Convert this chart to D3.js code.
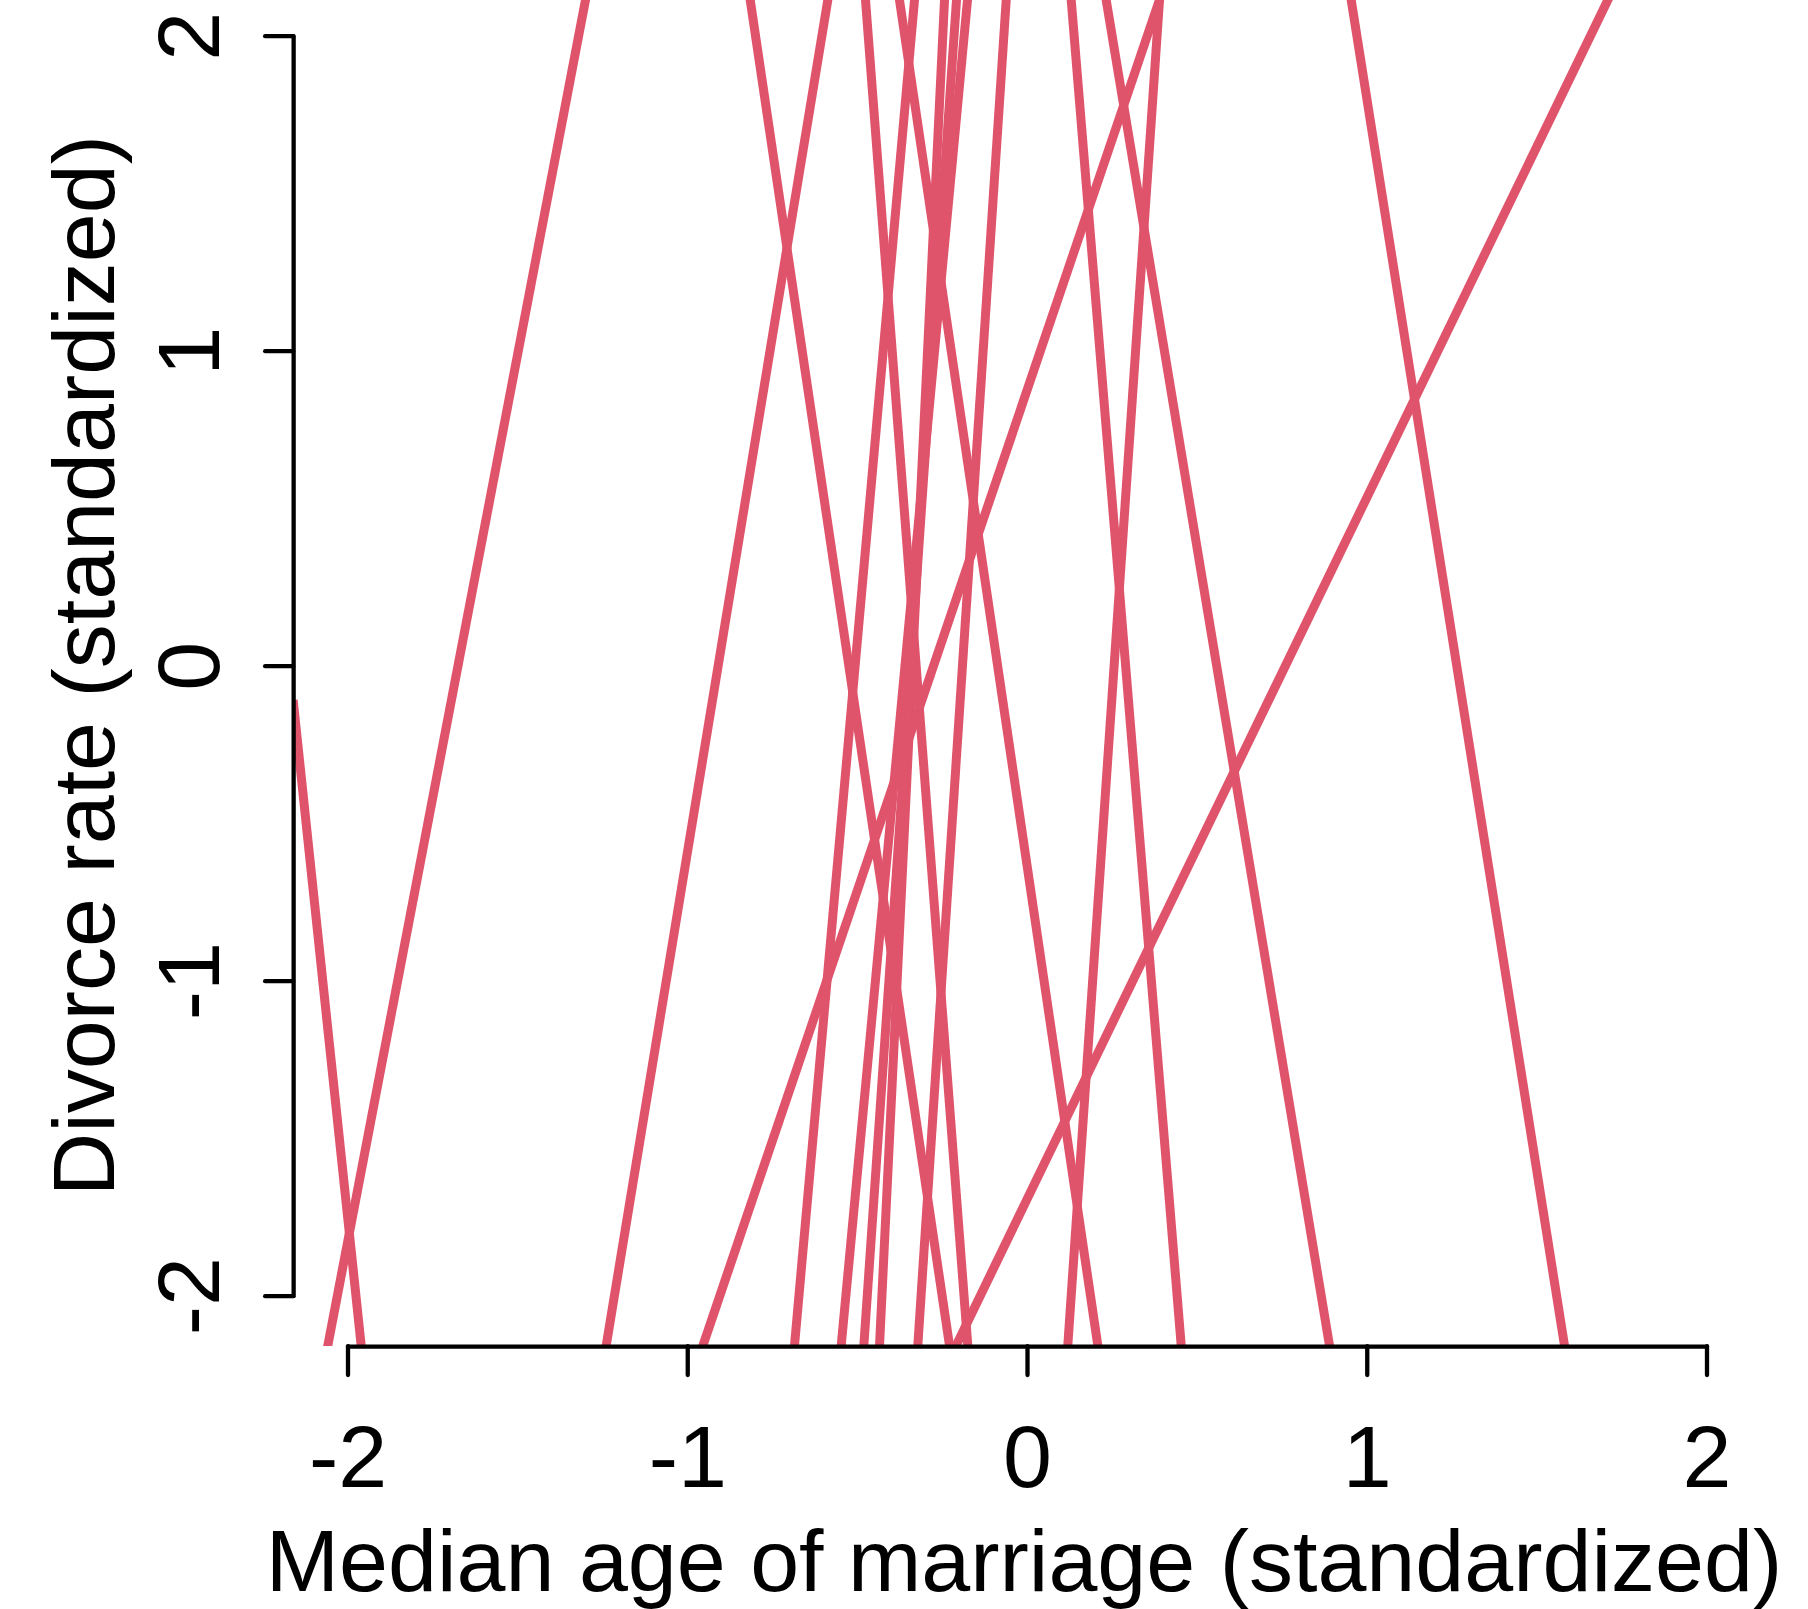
<!DOCTYPE html>
<html>
<head>
<meta charset="utf-8">
<script src="https://cdn.jsdelivr.net/npm/d3@7"></script>
<style>
  html, body { margin: 0; padding: 0; background: #ffffff; }
  svg { display: block; }
  text { font-family: "Liberation Sans", Arial, Helvetica, sans-serif; fill: #000; }
</style>
</head>
<body>
<script>
// ---- data (prior predictive regression lines: y = intercept + slope * x) ----
const intercepts = [9.432, -22.21, 5.953, -3.819, 0.874, 6.118, -4.630, -0.633, 3.118, 3.830, 3.628, -4.059, 8.606, -1.694, 7.535, 5.362, 4.125];
const slopes     = [5.632, -10.232, 6.549, -7.282, 3.179, 12.094, -14.187, -7.318, 16.417, -13.193, -6.499, 15.827, -6.804, 2.227, 22.33, 15.659, 11.489];
const xTicks = [-2, -1, 0, 1, 2];
const yTicks = [-2, -1, 0, 1, 2];
const xTitle = "Median age of marriage (standardized)";
const yTitle = "Divorce rate (standardized)";
const lineColor = "#DF536B";

(function () {
const W = 1808, H = 1609;
const FS = "88px";
const svg = d3.select("body").append("svg").attr("width", W).attr("height", H);
svg.append("rect").attr("width", W).attr("height", H).attr("fill", "#fff");

const x = d3.scaleLinear().domain([-2, 2]).range([347.5, 1706.5]);
const y = d3.scaleLinear().domain([-2, 2]).range([1295.7, 35.7]);
const ext = 2.16; // R's 4% axis expansion
const pL = x(-ext), pR = x(ext), pT = y(ext), pB = y(-ext);

svg.append("clipPath").attr("id", "plotclip")
  .append("rect").attr("x", pL).attr("y", pT)
  .attr("width", pR - pL).attr("height", pB - pT);

const lines = intercepts.map((a, i) => [[-ext, a + slopes[i] * -ext], [ext, a + slopes[i] * ext]]);
const lineGen = d3.line().x(d => x(d[0])).y(d => y(d[1]));

svg.append("g").attr("clip-path", "url(#plotclip)")
  .selectAll("path").data(lines).join("path")
  .attr("d", lineGen)
  .attr("fill", "none")
  .attr("stroke", lineColor)
  .attr("stroke-width", 9);

const xAxis = svg.append("g").attr("transform", `translate(0,${pB})`)
  .call(d3.axisBottom(x).tickValues(xTicks).tickFormat(d => String(d)).tickSizeInner(29).tickSizeOuter(0));
const yAxis = svg.append("g").attr("transform", `translate(${pL},0)`)
  .call(d3.axisLeft(y).tickValues(yTicks).tickFormat(d => String(d)).tickSizeInner(28).tickSizeOuter(0));

[xAxis, yAxis].forEach(g => {
  g.attr("font-family", null).attr("font-size", null);
  g.select(".domain").attr("stroke", "#000").attr("stroke-width", 4.3).attr("stroke-linecap", "round");
  g.selectAll(".tick line").attr("stroke", "#000").attr("stroke-width", 4.3).attr("stroke-linecap", "round");
  g.selectAll(".tick text").attr("fill", "#000").style("font-size", FS);
});
xAxis.selectAll(".tick text").attr("y", null).attr("dy", null)
  .attr("transform", `translate(0,${1487 - pB})`).attr("text-anchor", "middle");
yAxis.selectAll(".tick text").attr("x", null).attr("dy", null)
  .attr("transform", `translate(${219 - pL},0) rotate(-90)`).attr("text-anchor", "middle");

svg.append("text").attr("x", (pL + pR) / 2 - 3).attr("y", 1591)
  .attr("text-anchor", "middle").style("font-size", FS).text(xTitle);
svg.append("text").attr("transform", `translate(114,${(pT + pB) / 2}) rotate(-90)`)
  .attr("text-anchor", "middle").style("font-size", FS).text(yTitle);
})();
</script>
</body>
</html>
